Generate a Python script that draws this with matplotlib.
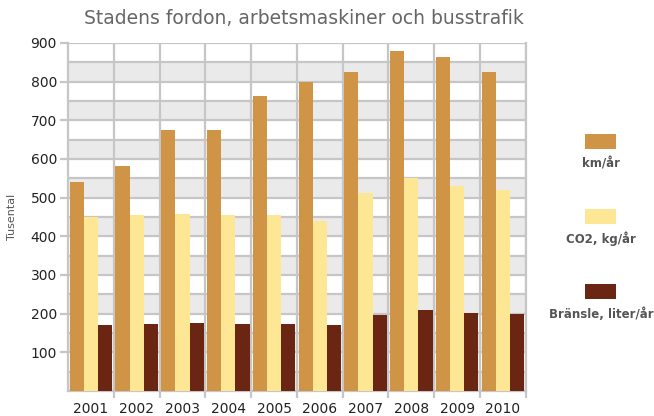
import matplotlib.pyplot as plt
from matplotlib.patches import Rectangle
import numpy as np

years = ["2001", "2002", "2003", "2004", "2005", "2006", "2007", "2008", "2009", "2010"]
km_ar = [540, 581, 674, 674, 762, 798, 824, 878, 863, 824]
co2_kg_ar = [450, 455, 457, 455, 455, 440, 512, 550, 530, 520]
bransle_liter_ar = [170, 173, 176, 173, 173, 171, 197, 209, 202, 200]

series = [("km/år", km_ar, "#CF9446"),
          ("CO2, kg/år", co2_kg_ar, "#FDE794"),
          ("Bränsle, liter/år", bransle_liter_ar, "#6A2612")]

grid_col = "#c6c6c6"
text_col = "#555555"

fig = plt.figure(figsize=(6.54, 4.16), dpi=100)
ax = fig.add_axes([0.104, 0.060, 0.700, 0.837])
ax.set_axisbelow(True)

# alternating grey bands
for k in range(0, 900, 100):
    ax.axhspan(k, k + 50, color="#eaeaea", zorder=0, lw=0)

x = np.arange(len(years))
w = 0.31
for i, (name, vals, col) in enumerate(series):
    ax.bar(x + (i - 1) * w, vals, width=w, color=col, zorder=3, lw=0)

ax.set_xlim(-0.5, len(years) - 0.5)
ax.set_ylim(0, 900)
ax.set_yticks(range(100, 901, 100))
ax.set_yticks(range(0, 901, 50), minor=True)
ax.set_xticks(x + 0.5, minor=True)
ax.set_xticks(x)
ax.set_xticklabels(years)

ax.grid(True, which="both", axis="y", color=grid_col, lw=1.6)
ax.grid(True, which="minor", axis="x", color=grid_col, lw=1.6)
ax.grid(False, which="major", axis="x")

ax.tick_params(axis="y", which="major", length=6, width=1.6, color=grid_col,
               labelsize=10, labelcolor="#222222", pad=2)
ax.tick_params(axis="y", which="minor", length=0)
ax.tick_params(axis="x", which="major", length=0, labelsize=10,
               labelcolor="#222222", pad=8)
ax.tick_params(axis="x", which="minor", length=5, width=1.6, color=grid_col)

for s in ax.spines.values():
    s.set_color(grid_col)
    s.set_linewidth(1.6)
ax.spines["top"].set_visible(False)

ax.set_ylabel("Tusental", fontsize=8, color=text_col, labelpad=10)

fig.text(0.465, 0.955, "Stadens fordon, arbetsmaskiner och busstrafik",
         ha="center", va="center", fontsize=13.5, color="#666666")

# legend on the right
for j, (name, vals, col) in enumerate(series):
    top = 134 + 75 * j
    fig.add_artist(Rectangle((585 / 654, 1 - (top + 15) / 416), 31 / 654, 15 / 416,
                             transform=fig.transFigure, color=col, lw=0))
    fig.text(601 / 654, 1 - (top + 30) / 416, name, ha="center", va="center",
             fontsize=8.5, fontweight="bold", color=text_col)

fig.savefig("out.png", dpi=100)
